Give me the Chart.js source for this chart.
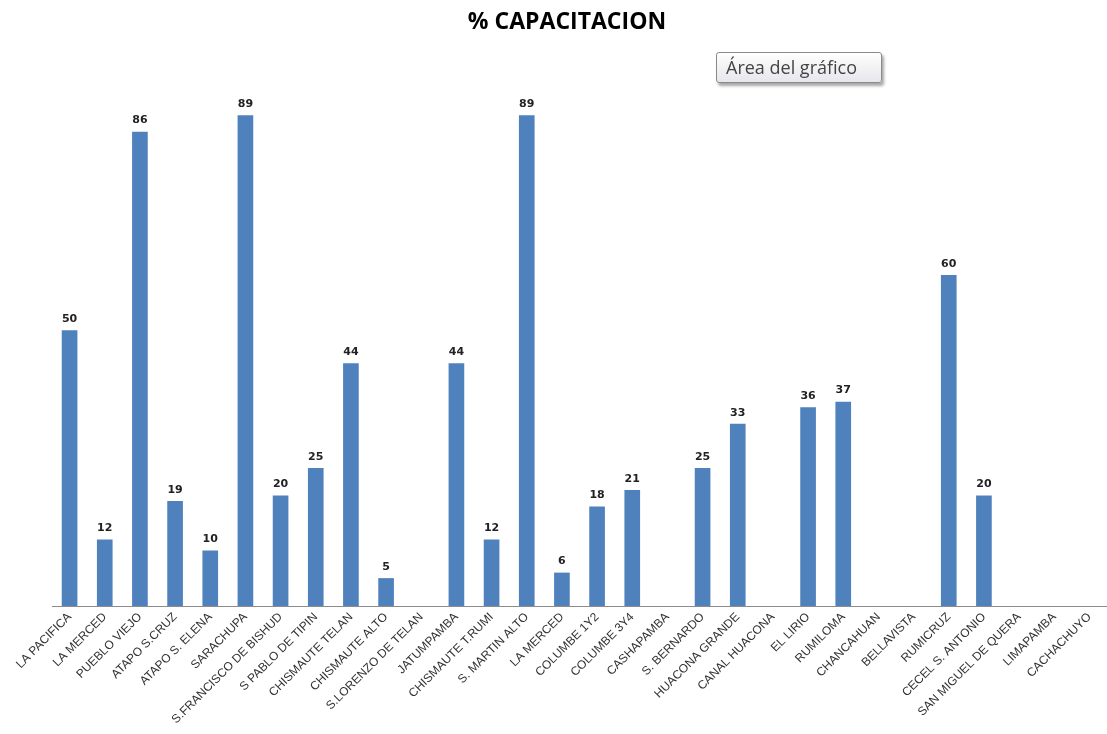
<!DOCTYPE html>
<html>
<head>
<meta charset="utf-8">
<script src="https://cdn.jsdelivr.net/npm/chart.js@4/dist/chart.umd.min.js"></script>
<style>
  html, body { margin: 0; padding: 0; background: #fff; }
  #wrap { position: relative; width: 1107px; height: 734px; }
  #tip {
    position: absolute; left: 716px; top: 52px; width: 166px; height: 31px;
    box-sizing: border-box; border: 1px solid #8a8a8a; border-radius: 3px;
    background: linear-gradient(#ffffff, #e6e6ec);
    box-shadow: 2px 3px 3px rgba(0,0,0,0.35);
    font-family: "Open Sans", "DejaVu Sans", sans-serif; font-size: 18px; color: #444;
    line-height: 28px; padding-left: 9px; text-align: left;
  }
</style>
</head>
<body>
<div id="wrap">
  <canvas id="c" width="1107" height="734"></canvas>
  <div id="tip">Área del gráfico</div>
</div>
<script>
const categories = ["LA PACIFICA","LA MERCED","PUEBLO VIEJO","ATAPO S.CRUZ","ATAPO S. ELENA","SARACHUPA","S.FRANCISCO DE BISHUD","S PABLO DE TIPIN","CHISMAUTE TELAN","CHISMAUTE ALTO","S.LORENZO DE TELAN","JATUMPAMBA","CHISMAUTE T.RUMI","S. MARTIN ALTO","LA MERCED","COLUMBE 1Y2","COLUMBE 3Y4","CASHAPAMBA","S. BERNARDO","HUACONA GRANDE","CANAL HUACONA","EL LIRIO","RUMILOMA","CHANCAHUAN","BELLAVISTA","RUMICRUZ","CECEL S. ANTONIO","SAN MIGUEL DE QUERA","LIMAPAMBA","CACHACHUYO"];
const capacitacion = [50,12,86,19,10,89,20,25,44,5,null,44,12,89,6,18,21,null,25,33,null,36,37,null,null,60,20,null,null,null];
const chartTitle = "% CAPACITACION";

const valueLabels = {
  id: 'valueLabels',
  afterDatasetsDraw(chart) {
    const ctx = chart.ctx;
    const meta = chart.getDatasetMeta(0);
    ctx.save();
    ctx.font = 'bold 11px "DejaVu Sans", sans-serif';
    ctx.fillStyle = '#222';
    ctx.textAlign = 'center';
    ctx.textBaseline = 'bottom';
    meta.data.forEach((bar, i) => {
      const v = capacitacion[i];
      if (v === null || v === undefined) return;
      ctx.fillText(String(v), bar.x, bar.y - 6);
    });
    ctx.restore();
  }
};

const titleDraw = {
  id: 'titleDraw',
  afterDraw(chart) {
    const ctx = chart.ctx;
    ctx.save();
    ctx.font = 'bold 23px "Open Sans", "DejaVu Sans", sans-serif';
    ctx.fillStyle = '#000';
    ctx.textAlign = 'center';
    ctx.textBaseline = 'middle';
    ctx.fillText(chartTitle, 567, 22);
    ctx.restore();
  }
};

new Chart(document.getElementById('c'), {
  type: 'bar',
  data: {
    labels: categories,
    datasets: [{
      data: capacitacion,
      backgroundColor: '#4f81bd',
      borderWidth: 0,
      barThickness: 15
    }]
  },
  plugins: [valueLabels, titleDraw],
  options: {
    responsive: false,
    animation: false,
    layout: { padding: { left: 52, right: 0, top: 55, bottom: 0 } },
    plugins: {
      legend: { display: false },
      tooltip: { enabled: false },
      title: { display: false }
    },
    scales: {
      x: {
        grid: { display: false, drawTicks: false },
        border: { display: true, color: '#8c8c8c', width: 1 },
        ticks: {
          autoSkip: false,
          maxRotation: 45, minRotation: 45,
          color: '#333',
          padding: 4,
          font: { family: '"Liberation Sans", sans-serif', size: 12 }
        },
        afterFit(scale) { scale.height = 128; }
      },
      y: {
        display: false,
        min: 0, max: 100
      }
    }
  }
});
</script>
</body>
</html>
